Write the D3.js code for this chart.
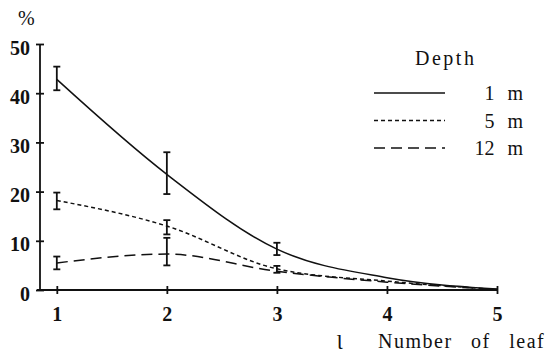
<!DOCTYPE html>
<html><head><meta charset="utf-8">
<script src="https://cdn.jsdelivr.net/npm/d3@7"></script>
<style>body{margin:0;background:#fff}svg{display:block}</style>
</head><body>
<script>
const leafNumbers = [1, 2, 3, 4, 5];
const depths = ["1 m", "5 m", "12 m"];
const mean1m  = [42.8, 23.5, 8.3, 2.5, 0.2];
const mean5m  = [18.2, 13.0, 4.3, 1.8, 0.1];
const mean12m = [5.5, 7.3, 3.8, 1.6, 0.1];
const low1m  = [40.6, 19.5, 7.1, null, null];
const high1m = [45.4, 28.0, 9.6, null, null];
const low5m  = [16.4, 11.3, 3.5, null, null];
const high5m = [19.8, 14.2, 4.9, null, null];
const low12m  = [4.2, 5.0, null, null, null];
const high12m = [6.8, 10.6, null, null, null];
const yTicks = [0, 10, 20, 30, 40, 50];
const xTicks = [1, 2, 3, 4, 5];

const W = 554, H = 358;
const svg = d3.select("body").append("svg").attr("width", W).attr("height", H);
const font = "Liberation Serif";

const x = d3.scaleLinear().domain([0.82, 5]).range([37, 497]);
const y = d3.scaleLinear().domain([0, 50]).range([290, 44]);

const series = [
  {name: depths[0], mean: mean1m, lo: low1m, hi: high1m, dash: null},
  {name: depths[1], mean: mean5m, lo: low5m, hi: high5m, dash: "4,3"},
  {name: depths[2], mean: mean12m, lo: low12m, hi: high12m, dash: "11,6"}
];

// axes
const yAxis = d3.axisLeft(y).tickValues(yTicks).tickFormat(d3.format("d")).tickSize(4).tickPadding(6);
const gy = svg.append("g").attr("transform", "translate(40,0)").call(yAxis);
const xAxis = d3.axisBottom(x).tickValues(xTicks).tickFormat(d3.format("d")).tickSize(4).tickPadding(13);
const gx = svg.append("g").attr("transform", "translate(0,290)").call(xAxis);
[gx, gy].forEach(g => {
  g.select(".domain").attr("stroke", "#111").attr("stroke-width", 1.8);
  g.selectAll(".tick line").attr("stroke", "#111").attr("stroke-width", 1.8);
  g.selectAll("text").style("font-family", font).style("font-size", "20px")
    .style("font-weight", "bold").attr("fill", "#111");
});
gy.selectAll("text").attr("dy", "0.5em");
gx.select(".domain").attr("d", `M${x(0.82)},0H${x(5)}`);
gy.select(".domain").attr("d", `M0,${y(0)}V${y(50)}`);
gy.selectAll(".tick line").attr("x2", 4).attr("x1", -4);
gx.selectAll(".tick line").attr("y1", -4).attr("y2", 4);

// lines
const line = d3.line().x((d, i) => x(leafNumbers[i])).y(d => y(d)).curve(d3.curveMonotoneX);
series.forEach(s => {
  svg.append("path").datum(s.mean).attr("d", line)
    .attr("fill", "none").attr("stroke", "#111").attr("stroke-width", 1.5)
    .attr("stroke-dasharray", s.dash);
  const g = svg.append("g").attr("stroke", "#111").attr("stroke-width", 1.8);
  leafNumbers.forEach((n, i) => {
    if (s.lo[i] == null) return;
    const cx = x(n);
    g.append("line").attr("x1", cx).attr("x2", cx).attr("y1", y(s.lo[i])).attr("y2", y(s.hi[i]));
    g.append("line").attr("x1", cx - 3.5).attr("x2", cx + 3.5).attr("y1", y(s.lo[i])).attr("y2", y(s.lo[i]));
    g.append("line").attr("x1", cx - 3.5).attr("x2", cx + 3.5).attr("y1", y(s.hi[i])).attr("y2", y(s.hi[i]));
  });
});

function txt(xp, yp, t, anchor) {
  return svg.append("text").attr("x", xp).attr("y", yp).attr("text-anchor", anchor || "start")
    .style("font-family", font).style("font-size", "20px").attr("fill", "#111").text(t);
}

// labels
txt(18, 25, "%");
txt(337, 349, "Ɩ").style("font-size", "22px");
txt(378, 348, "Number of leaf").style("letter-spacing", "1.5px").style("word-spacing", "12px");

// legend
txt(415, 65, "Depth").style("letter-spacing", "2.5px");
series.forEach((s, i) => {
  const ly = 93 + i * 27.5;
  svg.append("line").attr("x1", 374).attr("x2", 445).attr("y1", ly).attr("y2", ly)
    .attr("stroke", "#111").attr("stroke-width", 1.3).attr("stroke-dasharray", s.dash);
  txt(523, ly + 7, s.name, "end").style("word-spacing", "8px");
});
</script>
</body></html>
